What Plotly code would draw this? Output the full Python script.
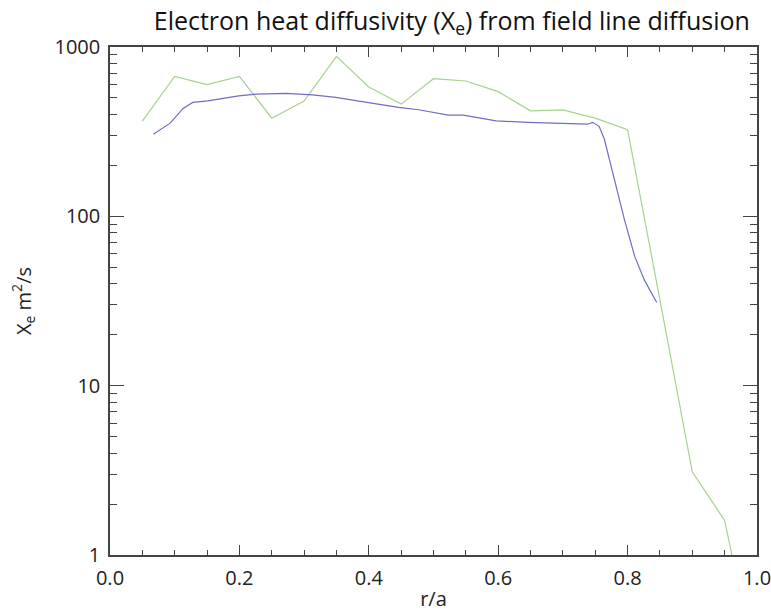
import plotly.graph_objects as go

# Green series (coarse profile)
green_x = [0.05, 0.10, 0.15, 0.20, 0.25, 0.30, 0.35, 0.40, 0.45, 0.50, 0.55, 0.60,
           0.65, 0.70, 0.75, 0.80, 0.85, 0.90, 0.95, 1.00]
green_y = [365, 670, 600, 670, 380, 480, 880, 580, 460, 650, 630, 545,
           420, 425, 380, 325, 32, 3.1, 1.6, 0.2]

# Blue series (smooth profile)
blue_x = [0.067, 0.093, 0.113, 0.128, 0.151, 0.199, 0.226, 0.272, 0.313, 0.349,
          0.397, 0.446, 0.477, 0.523, 0.546, 0.597, 0.646, 0.692, 0.738, 0.746,
          0.756, 0.764, 0.774, 0.785, 0.795, 0.811, 0.826, 0.845]
blue_y = [305, 355, 434, 471, 481, 515, 527, 532, 522, 504,
          471, 440, 426, 396, 396, 366, 359, 354, 350, 359,
          340, 286, 199, 138, 96, 58, 42, 31]

x_ticks = [0.0, 0.2, 0.4, 0.6, 0.8, 1.0]
x_tick_labels = ["0.0", "0.2", "0.4", "0.6", "0.8", "1.0"]
y_ticks = [1, 10, 100, 1000]
y_tick_labels = ["1", "10", "100", "1000"]

y_minor = [m * 10 ** d for d in range(3) for m in range(2, 10)]

fig = go.Figure()
fig.add_trace(go.Scatter(x=green_x, y=green_y, mode="lines",
                         line=dict(color="#a6d28e", width=1.2), showlegend=False))
fig.add_trace(go.Scatter(x=blue_x, y=blue_y, mode="lines",
                         line=dict(color="#6e6ec4", width=1.2), showlegend=False))

font_family = "Open Sans, Lato, sans-serif"
fig.update_layout(
    width=771, height=615,
    margin=dict(l=110, r=14, t=47, b=60),
    paper_bgcolor="white", plot_bgcolor="white",
    font=dict(family=font_family, color="#222", size=20),
    title=dict(text="Electron heat diffusivity (X<sub>e</sub>) from field line diffusion",
               x=0.586, xanchor="center", y=0.966, yanchor="middle",
               font=dict(size=25, color="#111")),
)
fig.update_xaxes(
    range=[0, 1], tickvals=x_ticks, ticktext=x_tick_labels,
    ticks="inside", ticklen=10, tickwidth=1.2, tickcolor="#444",
    minor=dict(dtick=0.05, ticks="inside", ticklen=5, tickwidth=1.2, tickcolor="#444"),
    showline=True, linecolor="#444", linewidth=1.5, mirror="allticks",
    showgrid=False, zeroline=False, automargin=False,
    ticklabelstandoff=4, ticklabeloverflow="allow",
    tickfont=dict(size=20),
    title=dict(text="r/a", standoff=2, font=dict(size=20)),
)
fig.update_yaxes(
    type="log", range=[0, 3], tickvals=y_ticks, ticktext=y_tick_labels,
    ticks="inside", ticklen=14, tickwidth=1.2, tickcolor="#444",
    minor=dict(tickvals=y_minor, ticks="inside", ticklen=7, tickwidth=1.2, tickcolor="#444"),
    showline=True, linecolor="#444", linewidth=1.5, mirror="allticks",
    showgrid=False, zeroline=False, automargin=False,
    ticklabelstandoff=4, ticklabeloverflow="allow",
    tickfont=dict(size=20),
    title=dict(text="X<sub>e</sub> m<sup>2</sup>/s", standoff=18, font=dict(size=20)),
)

# remove the browser's default 8px body margin so the figure fills the window
fig.write_html("out.html", config={"displayModeBar": False},
               post_script="document.body.style.margin='0';")
